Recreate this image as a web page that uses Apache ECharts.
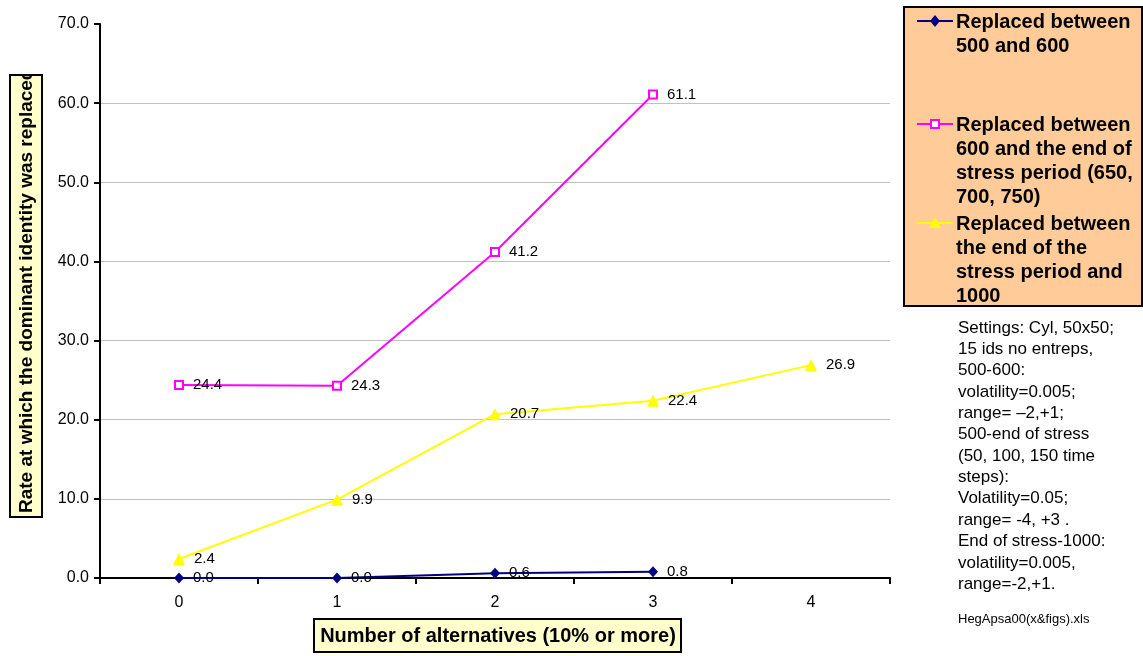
<!DOCTYPE html>
<html>
<head>
<meta charset="utf-8">
<script src="https://cdn.jsdelivr.net/npm/echarts@6/dist/echarts.min.js"></script>
<style>
  html, body { margin: 0; padding: 0; background: #fff; }
  #chart { width: 1143px; height: 656px; }
</style>
</head>
<body>
<div id="chart"></div>
<script>
// Number of alternatives (10% or more)
const categories = ['0', '1', '2', '3', '4'];

// Replacement rates per period
const replaced500to600 = [0.0, 0.0, 0.6, 0.8];
const replaced600toEndStress = [24.4, 24.3, 41.2, 61.1];
const replacedEndStressTo1000 = [2.4, 9.9, 20.7, 22.4, 26.9];

const seriesNames = [
  'Replaced between\n500 and 600',
  'Replaced between\n600 and the end of\nstress period (650,\n700, 750)',
  'Replaced between\nthe end of the\nstress period and\n1000'
];

const notesText = [
  'Settings: Cyl, 50x50;',
  '15 ids no entreps,',
  '500-600:',
  'volatility=0.005;',
  'range= \u20132,+1;',
  '500-end of stress',
  '(50, 100, 150 time',
  'steps):',
  'Volatility=0.05;',
  'range= -4, +3 .',
  'End of stress-1000:',
  'volatility=0.005,',
  'range=-2,+1.'
];
const sourceFile = 'HegApsa00(x&figs).xls';

const yTitle = 'Rate at which the dominant identity was replaced';
const xTitle = 'Number of alternatives (10% or more)';

const FONT = '"Liberation Sans", Arial, sans-serif';
const colors = ['#000080', '#FF00FF', '#FFFF00'];

const chart = echarts.init(document.getElementById('chart'), null, { renderer: 'canvas' });

const labelCfg = {
  show: true,
  position: 'right',
  distance: 9,
  color: '#000',
  fontFamily: FONT,
  fontSize: 15,
  formatter: p => p.value.toFixed(1)
};

// legend drawn as a boxed list of entries
const legendEntries = [
  { y: 21, symbol: 'diamond' },
  { y: 124, symbol: 'rect' },
  { y: 223, symbol: 'triangle' }
];
const legendGraphics = [
  {
    type: 'rect', z: 10,
    shape: { x: 904, y: 7, width: 238, height: 299 },
    style: { fill: '#FFCC99', stroke: '#000', lineWidth: 2 }
  }
];
legendEntries.forEach((e, i) => {
  legendGraphics.push({
    type: 'line', z: 11,
    shape: { x1: 917, y1: e.y, x2: 953, y2: e.y },
    style: { stroke: colors[i], lineWidth: 2 }
  });
  let sym;
  if (e.symbol === 'diamond') {
    sym = { type: 'polygon', z: 12, shape: { points: [[935, e.y - 6], [940, e.y], [935, e.y + 6], [930, e.y]] }, style: { fill: colors[i] } };
  } else if (e.symbol === 'rect') {
    sym = { type: 'rect', z: 12, shape: { x: 931, y: e.y - 4, width: 8, height: 8 }, style: { fill: '#fff', stroke: colors[i], lineWidth: 2 } };
  } else {
    sym = { type: 'polygon', z: 12, shape: { points: [[935, e.y - 6], [941, e.y + 5], [929, e.y + 5]] }, style: { fill: colors[i] } };
  }
  legendGraphics.push(sym);
  legendGraphics.push({
    type: 'text', z: 12,
    x: 956, y: e.y - 11,
    style: {
      text: seriesNames[i],
      fill: '#000',
      font: 'bold 20px ' + FONT,
      lineHeight: 24,
      verticalAlign: 'top',
      align: 'left'
    }
  });
});

const notesGraphics = notesText.map((t, i) => ({
  type: 'text', z: 5,
  x: 958, y: 328 + i * 21.35,
  style: { text: t, fill: '#000', font: '17px ' + FONT, verticalAlign: 'middle', align: 'left' }
}));
notesGraphics.push({
  type: 'text', z: 5,
  x: 958, y: 619,
  style: { text: sourceFile, fill: '#000', font: '13px ' + FONT, verticalAlign: 'middle', align: 'left' }
});

const titleGraphics = [
  // y-axis title box, text clipped at the top edge of the box
  { type: 'rect', z: 20, shape: { x: 10, y: 75, width: 32, height: 442 }, style: { fill: '#FFFFCC' } },
  {
    type: 'text', z: 21, x: 27, y: 513, rotation: Math.PI / 2,
    style: { text: yTitle, fill: '#000', font: 'bold 19px ' + FONT, align: 'left', verticalAlign: 'middle' }
  },
  { type: 'rect', z: 22, shape: { x: 6, y: 0, width: 40, height: 74 }, style: { fill: '#fff' } },
  { type: 'rect', z: 23, shape: { x: 10, y: 75, width: 32, height: 442 }, style: { fill: 'none', stroke: '#000', lineWidth: 2 } },
  // x-axis title box
  { type: 'rect', z: 20, shape: { x: 314, y: 619, width: 367, height: 33 }, style: { fill: '#FFFFCC', stroke: '#000', lineWidth: 2 } },
  {
    type: 'text', z: 21, x: 498, y: 636,
    style: { text: xTitle, fill: '#000', font: 'bold 20px ' + FONT, align: 'center', verticalAlign: 'middle' }
  }
];

chart.setOption({
  animation: false,
  backgroundColor: '#fff',
  grid: { left: 100, right: 253, top: 24, bottom: 78, containLabel: false },
  xAxis: {
    type: 'category',
    data: categories,
    boundaryGap: true,
    axisLine: { show: true, lineStyle: { color: '#000', width: 2 } },
    axisTick: { show: true, inside: false, length: 6, lineStyle: { color: '#000', width: 2 } },
    axisLabel: { color: '#000', fontFamily: FONT, fontSize: 16, margin: 17 },
    splitLine: { show: false }
  },
  yAxis: {
    type: 'value',
    min: 0, max: 70, interval: 10,
    axisLine: { show: true, lineStyle: { color: '#000', width: 2 } },
    axisTick: { show: true, inside: false, length: 6, lineStyle: { color: '#000', width: 2 } },
    axisLabel: { color: '#000', fontFamily: FONT, fontSize: 16, margin: 11, formatter: v => v.toFixed(1) },
    splitLine: {
      show: true,
      lineStyle: { color: ['#C0C0C0', '#C0C0C0', '#C0C0C0', '#C0C0C0', '#C0C0C0', '#C0C0C0', '#C0C0C0', 'rgba(0,0,0,0)'], width: 1 }
    }
  },
  series: [
    {
      name: seriesNames[0], type: 'line', data: replaced500to600,
      symbol: 'diamond', symbolSize: [10, 11],
      lineStyle: { color: colors[0], width: 2 },
      itemStyle: { color: colors[0] },
      label: labelCfg, z: 4
    },
    {
      name: seriesNames[1], type: 'line', data: replaced600toEndStress,
      symbol: 'rect', symbolSize: 8,
      lineStyle: { color: colors[1], width: 2 },
      itemStyle: { color: '#fff', borderColor: colors[1], borderWidth: 2 },
      label: labelCfg, z: 3
    },
    {
      name: seriesNames[2], type: 'line', data: replacedEndStressTo1000,
      symbol: 'triangle', symbolSize: 12,
      lineStyle: { color: colors[2], width: 2 },
      itemStyle: { color: colors[2] },
      label: labelCfg, z: 2
    }
  ],
  graphic: [...legendGraphics, ...notesGraphics, ...titleGraphics]
});
</script>
</body>
</html>
